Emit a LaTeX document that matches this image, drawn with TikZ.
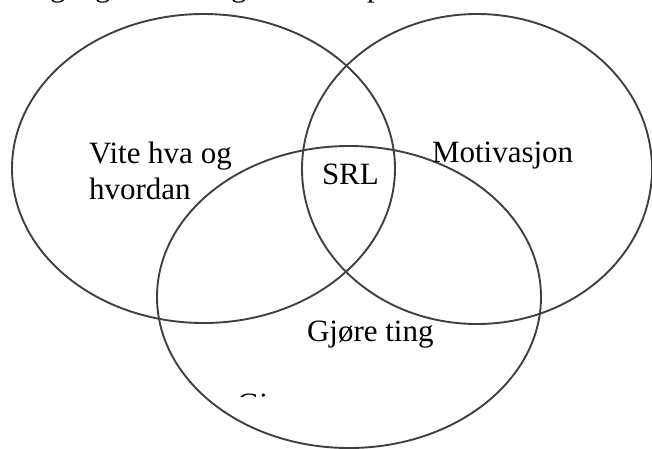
\documentclass[tikz,border=0pt]{standalone}
\usepackage{fontspec}
\setmainfont{Liberation Serif}
\begin{document}
\begin{tikzpicture}[x=1pt,y=-1pt,
  ring/.style={draw=black!75,line width=1.9pt},
  label/.style={anchor=base west,inner sep=0pt,outer sep=0pt,
    font=\fontsize{31}{36}\selectfont,text=black}]
  \useasboundingbox (0,0) rectangle (652,448);
  \clip (0,0) rectangle (652,448);
  % descenders of the line of text above the diagram
  \node[label] (t1) at (50,-4) {g};
  \node[label] (t2) at (95,-4) {g};
  \node[label] (t3) at (231,-4) {g};
  \node[label] (t4) at (367,-4) {p};
  % the three sets
  \draw[ring] (203.5,168.5) ellipse [x radius=191.5, y radius=154.5];
  \draw[ring] (477,169) ellipse [x radius=175, y radius=155];
  \draw[ring] (349,297) ellipse [x radius=192, y radius=151];
  % labels
  \node[label] (vite) at (89,163) {Vite hva og};
  \node[label] (hvordan) at (89,199) {hvordan};
  \node[label] (srl) at (322,184) {SRL};
  \node[label] (motiv) at (432,162) {Motivasjon};
  \node[label] (gjore) at (307,341) {Gjøre ting};
  % partly hidden label, only its top shows
  \begin{scope}
    \clip (0,0) rectangle (652,396);
    \node[label] (gi) at (237,414) {Gi};
  \end{scope}
\end{tikzpicture}
\end{document}
